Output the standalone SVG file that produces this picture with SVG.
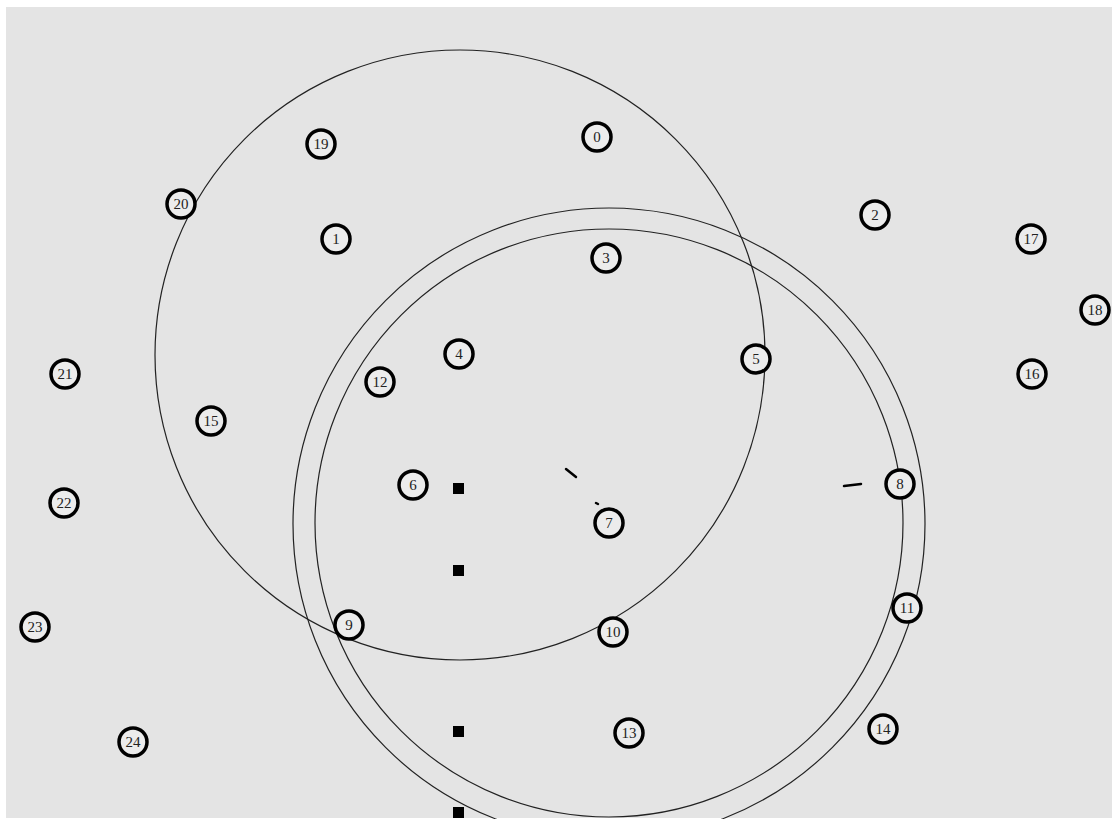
<svg xmlns="http://www.w3.org/2000/svg" width="1112" height="819" viewBox="0 0 1112 819">
<style>
.big{fill:none;stroke:#222;stroke-width:1.2}
.node circle{fill:#ececec;stroke:#000;stroke-width:3.5}
.node text{font-family:"Liberation Serif",serif;font-size:15px;fill:#222;text-anchor:middle;dominant-baseline:central}
.sq{fill:#000}
.mark{stroke:#000;stroke-width:2.5;stroke-linecap:round}
</style>
<rect width="1112" height="819" fill="#ffffff"/>
<rect x="6" y="7" width="1106" height="811" fill="#e4e4e4"/>
<g id="regions">
<circle class="big" cx="460" cy="355" r="305"/>
<circle class="big" cx="609" cy="524" r="316"/>
<circle class="big" cx="609" cy="523" r="294"/>
</g>
<g id="connectors">
<line class="mark" x1="566" y1="469" x2="576" y2="477"/>
<line class="mark" x1="596" y1="503" x2="598" y2="504" stroke-width="1.5"/>
<line class="mark" x1="844" y1="486" x2="861" y2="484"/>
</g>
<g id="markers">
<rect class="sq" x="453" y="483" width="11" height="11"/>
<rect class="sq" x="453" y="565" width="11" height="11"/>
<rect class="sq" x="453" y="726" width="11" height="11"/>
<rect class="sq" x="453" y="807" width="11" height="11"/>
</g>
<g id="n0" class="node"><circle cx="597" cy="137" r="14"/><text x="597" y="137">0</text></g>
<g id="n1" class="node"><circle cx="336" cy="239" r="14"/><text x="336" y="239">1</text></g>
<g id="n2" class="node"><circle cx="875" cy="215" r="14"/><text x="875" y="215">2</text></g>
<g id="n3" class="node"><circle cx="606" cy="258" r="14"/><text x="606" y="258">3</text></g>
<g id="n4" class="node"><circle cx="459" cy="354" r="14"/><text x="459" y="354">4</text></g>
<g id="n5" class="node"><circle cx="756" cy="359" r="14"/><text x="756" y="359">5</text></g>
<g id="n6" class="node"><circle cx="413" cy="485" r="14"/><text x="413" y="485">6</text></g>
<g id="n7" class="node"><circle cx="609" cy="523" r="14"/><text x="609" y="523">7</text></g>
<g id="n8" class="node"><circle cx="900" cy="484" r="14"/><text x="900" y="484">8</text></g>
<g id="n9" class="node"><circle cx="349" cy="625" r="14"/><text x="349" y="625">9</text></g>
<g id="n10" class="node"><circle cx="613" cy="632" r="14"/><text x="613" y="632">10</text></g>
<g id="n11" class="node"><circle cx="907" cy="608" r="14"/><text x="907" y="608">11</text></g>
<g id="n12" class="node"><circle cx="380" cy="382" r="14"/><text x="380" y="382">12</text></g>
<g id="n13" class="node"><circle cx="629" cy="733" r="14"/><text x="629" y="733">13</text></g>
<g id="n14" class="node"><circle cx="883" cy="729" r="14"/><text x="883" y="729">14</text></g>
<g id="n15" class="node"><circle cx="211" cy="421" r="14"/><text x="211" y="421">15</text></g>
<g id="n16" class="node"><circle cx="1032" cy="374" r="14"/><text x="1032" y="374">16</text></g>
<g id="n17" class="node"><circle cx="1031" cy="239" r="14"/><text x="1031" y="239">17</text></g>
<g id="n18" class="node"><circle cx="1095" cy="310" r="14"/><text x="1095" y="310">18</text></g>
<g id="n19" class="node"><circle cx="321" cy="144" r="14"/><text x="321" y="144">19</text></g>
<g id="n20" class="node"><circle cx="181" cy="204" r="14"/><text x="181" y="204">20</text></g>
<g id="n21" class="node"><circle cx="65" cy="374" r="14"/><text x="65" y="374">21</text></g>
<g id="n22" class="node"><circle cx="64" cy="503" r="14"/><text x="64" y="503">22</text></g>
<g id="n23" class="node"><circle cx="35" cy="627" r="14"/><text x="35" y="627">23</text></g>
<g id="n24" class="node"><circle cx="133" cy="742" r="14"/><text x="133" y="742">24</text></g>
</svg>
